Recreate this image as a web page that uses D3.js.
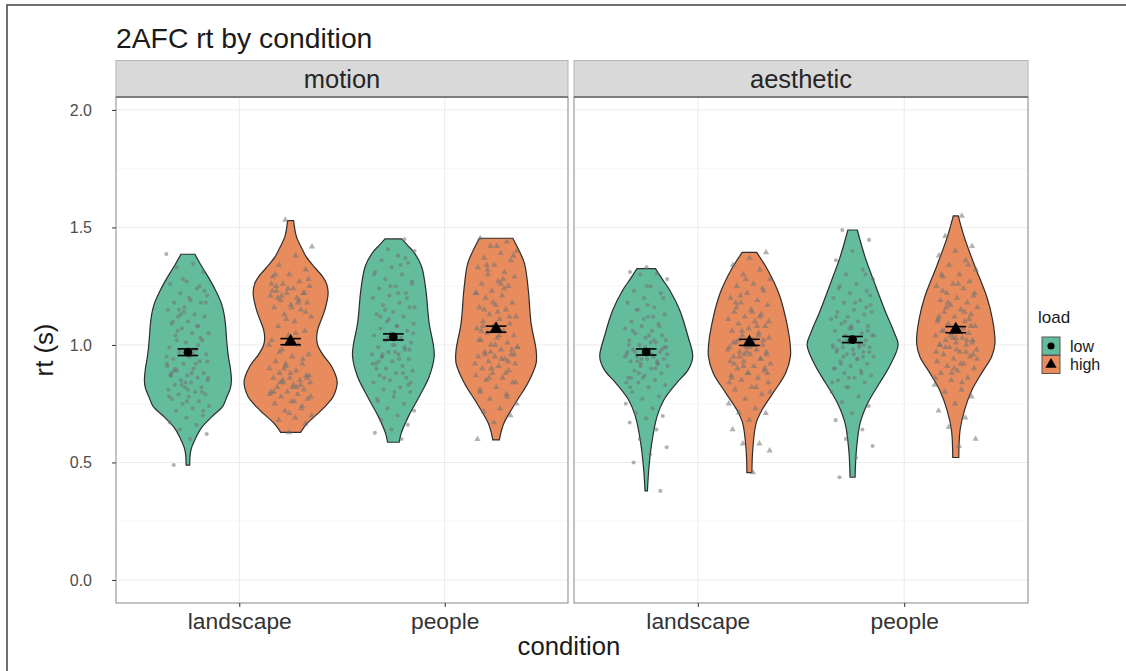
<!DOCTYPE html>
<html><head><meta charset="utf-8">
<script src="https://cdn.jsdelivr.net/npm/d3@7"></script>
<style>html,body{margin:0;padding:0;background:#fff;} svg{display:block;font-family:"Liberation Sans",Arial,sans-serif;}</style>
</head><body><svg id="chart" width="1126" height="671"></svg>
<script>
// ---------------- data ----------------
const facets = ["motion", "aesthetic"];
const conditions = ["landscape", "people"];
const loads = ["low", "high"];
const yTicks = [0.0, 0.5, 1.0, 1.5, 2.0];
const yMinorTicks = [0.25, 0.75, 1.25, 1.75];
const titleText = "2AFC rt by condition";
const xTitleText = "condition";
const yTitleText = "rt (s)";
const legendTitleText = "load";

const ptsMotionLandscapeLow = [1.387,1.345,1.33,1.31,1.27,1.26,1.24,1.22,1.21,1.19,1.18,1.18,1.16,1.15,1.13,1.12,1.12,1.10,1.09,1.08,1.07,1.05,1.05,1.04,1.02,1.01,0.99,0.98,0.97,0.96,0.95,0.94,0.93,0.92,0.92,0.90,0.89,0.88,0.87,0.87,0.86,0.85,0.85,0.84,0.83,0.82,0.82,0.81,0.80,0.79,0.79,0.78,0.77,0.76,0.75,0.74,0.73,0.72,0.70,0.69,0.67,0.66,0.64,0.621,0.60,0.489,1.03,1.14,0.91,0.96,1.06,1.23,0.81,0.88,1.00,0.83,0.86,0.88,0.90,0.80,0.84,0.78,0.92,1.15,1.18,1.20,1.10,1.25,1.28,0.95,0.98,1.02,0.72,0.76,0.87,1.08,1.13,0.93,0.97,0.89];
const ptsMotionLandscapeHigh = [1.532,1.418,1.38,1.34,1.32,1.30,1.29,1.27,1.26,1.25,1.24,1.23,1.22,1.22,1.21,1.20,1.19,1.18,1.17,1.16,1.15,1.13,1.12,1.10,1.08,1.06,1.04,1.02,1.00,0.98,0.96,0.95,0.93,0.92,0.91,0.90,0.89,0.88,0.87,0.86,0.86,0.85,0.84,0.84,0.83,0.82,0.81,0.80,0.80,0.79,0.78,0.77,0.76,0.75,0.73,0.72,0.70,0.69,0.68,0.664,0.628,1.23,1.19,0.85,0.87,0.82,1.25,0.94,1.11,0.79,0.82,0.84,0.86,0.88,0.80,0.83,0.90,0.78,0.76,1.20,1.22,1.24,1.26,1.18,1.21,1.28,1.16,1.30,0.74,0.92,1.00,1.05,0.97,1.14,0.71];
const ptsMotionPeopleLow = [1.45,1.407,1.40,1.38,1.36,1.35,1.33,1.31,1.30,1.28,1.27,1.25,1.24,1.22,1.21,1.20,1.18,1.17,1.16,1.14,1.13,1.12,1.10,1.09,1.08,1.07,1.06,1.05,1.04,1.03,1.02,1.01,1.00,0.99,0.98,0.97,0.96,0.96,0.95,0.94,0.93,0.92,0.91,0.90,0.89,0.88,0.87,0.86,0.85,0.84,0.82,0.81,0.80,0.78,0.77,0.75,0.73,0.72,0.70,0.68,0.66,0.64,0.626,0.60,1.15,1.26,0.97,0.93,1.37,1.11,0.92,0.94,0.96,0.98,1.00,0.90,0.88,1.02,1.05,1.08,1.12,1.20,1.25,1.30,1.34,0.86,0.84,0.80,0.76,0.99,1.03,1.16,1.22,0.95,0.83];
const ptsMotionPeopleHigh = [1.454,1.44,1.42,1.40,1.39,1.37,1.36,1.34,1.33,1.31,1.30,1.29,1.27,1.26,1.25,1.23,1.22,1.21,1.20,1.18,1.17,1.16,1.15,1.13,1.12,1.11,1.10,1.09,1.08,1.07,1.06,1.05,1.04,1.03,1.02,1.01,1.00,0.99,0.98,0.97,0.96,0.95,0.95,0.94,0.93,0.92,0.91,0.90,0.89,0.88,0.87,0.86,0.85,0.84,0.82,0.81,0.79,0.77,0.75,0.73,0.716,0.70,0.67,0.599,1.24,1.32,0.96,1.14,1.06,0.93,0.90,0.92,0.94,0.96,0.98,1.00,1.02,0.88,0.86,0.84,1.04,1.08,1.12,1.18,1.22,1.28,1.34,1.38,1.42,0.80,0.78,0.97,0.99,1.26,1.15];
const ptsAestheticLandscapeLow = [1.33,1.31,1.304,1.30,1.28,1.25,1.23,1.22,1.20,1.18,1.16,1.15,1.13,1.12,1.10,1.09,1.08,1.07,1.06,1.05,1.04,1.03,1.02,1.01,1.00,0.99,0.98,0.98,0.97,0.96,0.96,0.95,0.95,0.94,0.94,0.93,0.92,0.92,0.91,0.90,0.89,0.88,0.87,0.86,0.85,0.84,0.83,0.82,0.80,0.78,0.77,0.75,0.73,0.71,0.698,0.688,0.67,0.64,0.60,0.565,0.535,0.50,0.379,1.11,0.97,1.02,0.93,0.99,1.17,0.86,0.92,0.94,0.95,0.96,0.97,0.98,0.99,1.00,0.90,0.88,1.02,1.04,1.06,1.08,0.86,0.84,1.12,1.15,1.20,1.25,0.82,0.93,0.91,0.96,1.01];
const ptsAestheticLandscapeHigh = [1.394,1.37,1.34,1.32,1.30,1.28,1.26,1.25,1.23,1.22,1.20,1.19,1.18,1.17,1.15,1.14,1.13,1.12,1.11,1.10,1.09,1.08,1.07,1.06,1.05,1.04,1.03,1.02,1.01,1.00,0.99,0.99,0.98,0.97,0.96,0.96,0.95,0.94,0.93,0.92,0.91,0.90,0.89,0.88,0.87,0.86,0.85,0.84,0.82,0.81,0.79,0.77,0.75,0.73,0.712,0.71,0.68,0.64,0.58,0.58,0.55,0.457,1.16,1.02,0.97,0.93,1.08,1.21,0.88,1.00,0.92,0.94,0.96,0.98,1.00,1.02,0.90,0.88,0.86,1.04,1.06,1.10,1.14,1.18,1.24,1.28,0.84,0.82,0.95,0.97,0.99,1.01,1.12,0.91,0.80];
const ptsAestheticPeopleLow = [1.489,1.447,1.40,1.36,1.32,1.30,1.28,1.26,1.25,1.23,1.22,1.20,1.19,1.18,1.17,1.15,1.14,1.13,1.12,1.11,1.10,1.09,1.08,1.07,1.06,1.05,1.04,1.04,1.03,1.02,1.02,1.01,1.00,1.00,0.99,0.99,0.98,0.97,0.97,0.96,0.95,0.94,0.93,0.92,0.91,0.90,0.89,0.88,0.87,0.86,0.85,0.84,0.82,0.80,0.78,0.756,0.74,0.709,0.68,0.64,0.60,0.57,0.52,0.437,1.16,1.07,0.99,1.01,0.95,1.21,0.96,0.98,1.00,1.02,1.04,0.94,0.92,1.06,1.08,0.90,0.88,1.10,1.14,1.18,1.24,1.30,0.86,0.84,0.99,1.01,0.97,1.03,1.12,0.95,0.82];
const ptsAestheticPeopleHigh = [1.549,1.463,1.42,1.40,1.38,1.36,1.34,1.32,1.30,1.29,1.27,1.26,1.25,1.24,1.22,1.21,1.20,1.19,1.18,1.17,1.16,1.15,1.14,1.13,1.12,1.11,1.10,1.09,1.08,1.07,1.06,1.05,1.05,1.04,1.03,1.02,1.02,1.01,1.00,1.00,0.99,0.98,0.97,0.96,0.95,0.94,0.93,0.92,0.91,0.90,0.89,0.88,0.86,0.85,0.83,0.81,0.80,0.78,0.75,0.72,0.69,0.65,0.60,0.57,1.23,1.11,1.03,0.97,1.07,1.16,0.96,0.98,1.00,1.02,1.04,0.94,0.92,1.06,1.08,0.90,1.10,1.14,1.18,1.22,1.26,1.30,1.34,0.88,0.86,0.84,0.99,1.01,1.03,1.12,0.97];

// violin density profiles: [rt, density] (density in arbitrary units)
const vioMotionLandscapeLow = [[0.489,1.8],[0.553,3],[0.61,8.5],[0.65,14],[0.695,24],[0.74,35],[0.78,39],[0.816,42.5],[0.85,43.5],[0.90,42.5],[0.95,40.5],[1.007,39],[1.09,37.5],[1.135,36],[1.177,33.5],[1.23,28],[1.277,22],[1.34,13],[1.386,7]];
const vioMotionLandscapeHigh = [[0.628,10],[0.667,16.7],[0.709,27.5],[0.745,36],[0.78,42.5],[0.844,46.5],[0.908,41],[0.96,32],[1.0,27],[1.03,26],[1.064,27],[1.149,34.2],[1.22,37.5],[1.26,36],[1.291,32],[1.33,24],[1.376,15.5],[1.404,12],[1.461,5.8],[1.529,3]];
const vioMotionPeopleLow = [[0.586,5.8],[0.624,7.8],[0.695,15],[0.78,25.8],[0.865,35.8],[0.95,40.8],[1.0,40],[1.092,35.8],[1.234,32.5],[1.333,28.3],[1.39,21.3],[1.425,14],[1.451,8.3]];
const vioMotionPeopleHigh = [[0.596,3.3],[0.63,5],[0.667,7.8],[0.752,19.2],[0.837,31.7],[0.922,40],[0.979,40],[1.092,35],[1.234,32.2],[1.348,28.3],[1.41,22],[1.454,16.7]];
const vioAestheticLandscapeLow = [[0.379,1.2],[0.468,2.5],[0.582,5.5],[0.695,10.7],[0.766,17.5],[0.837,30],[0.894,41.7],[0.95,46.3],[1.035,41.7],[1.149,33.3],[1.234,23.3],[1.28,16],[1.325,9.2]];
const vioAestheticLandscapeHigh = [[0.457,2.5],[0.553,3.3],[0.667,6.7],[0.723,12.5],[0.794,23.3],[0.88,36],[0.95,40.8],[1.007,40.5],[1.121,35.8],[1.22,29.2],[1.319,18.3],[1.394,7.2]];
const vioAestheticPeopleLow = [[0.437,2.5],[0.553,3.8],[0.667,7.5],[0.752,15],[0.837,26.7],[0.908,36.7],[1.0,45.3],[1.05,41.7],[1.149,32],[1.262,22],[1.376,12.3],[1.489,4.7]];
const vioAestheticPeopleHigh = [[0.521,3],[0.638,4.3],[0.723,8.7],[0.809,16.2],[0.88,25.7],[0.95,35.7],[1.007,39],[1.106,36.7],[1.206,30.8],[1.333,19.2],[1.461,8.3],[1.549,2.5]];

// mean rt and standard error, order: facet > condition > load
const meanRt = [0.969, 1.014, 1.034, 1.067, 0.970, 1.011, 1.023, 1.065];
const seRt   = [0.014, 0.013, 0.013, 0.013, 0.013, 0.013, 0.013, 0.013];

const ptsList = [ptsMotionLandscapeLow, ptsMotionLandscapeHigh, ptsMotionPeopleLow, ptsMotionPeopleHigh,
                 ptsAestheticLandscapeLow, ptsAestheticLandscapeHigh, ptsAestheticPeopleLow, ptsAestheticPeopleHigh];
const vioList = [vioMotionLandscapeLow, vioMotionLandscapeHigh, vioMotionPeopleLow, vioMotionPeopleHigh,
                 vioAestheticLandscapeLow, vioAestheticLandscapeHigh, vioAestheticPeopleLow, vioAestheticPeopleHigh];

const groups = [];
{ let k = 0;
  facets.forEach((f) => conditions.forEach((c) => loads.forEach((l) => {
    groups.push({facet: f, cond: c, load: l, pts: ptsList[k], vio: vioList[k], mean: meanRt[k], se: seRt[k], idx: k});
    k++;
  })));
}

// ---------------- layout / style ----------------
const svg = d3.select("#chart");
const panelTop = 97, panelBottom = 603;
const panelX = {motion: [116, 568], aesthetic: [574, 1028]};
const stripTop = 60.5;
const fillColor = d3.scaleOrdinal().domain(loads).range(["#63bc9c", "#e88c5e"]);
const shapeType = d3.scaleOrdinal().domain(loads).range([d3.symbolCircle, d3.symbolTriangle]);

const y = d3.scaleLinear().domain([-0.098, 2.055]).range([panelBottom, panelTop]);
const densMax = 46.5;

// outer frame
svg.append("rect").attr("x", 7).attr("y", 5).attr("width", 1140).attr("height", 700)
  .attr("fill", "none").attr("stroke", "#4a4a4a").attr("stroke-width", 1.6);

// title
svg.append("text").attr("x", 116).attr("y", 48).attr("font-size", 28.3).attr("fill", "#1a1a1a").text(titleText);

facets.forEach((facet) => {
  const [x0, x1] = panelX[facet];
  const x = d3.scalePoint().domain(conditions).range([x0, x1]).padding(0.6);
  const step = x.step();
  const dodge = d3.scalePoint().domain(loads).range([-0.25 * step, 0.25 * step]);
  const w = d3.scaleLinear().domain([0, densMax]).range([0, 0.2263 * step]);

  const g = svg.append("g");
  g.append("rect").attr("x", x0).attr("y", panelTop).attr("width", x1 - x0).attr("height", panelBottom - panelTop).attr("fill", "#fff");
  g.selectAll(".minor").data(yMinorTicks).join("line")
    .attr("x1", x0).attr("x2", x1).attr("y1", d => y(d)).attr("y2", d => y(d))
    .attr("stroke", "#f4f4f4").attr("stroke-width", 0.8);
  g.selectAll(".major").data(yTicks).join("line")
    .attr("x1", x0).attr("x2", x1).attr("y1", d => y(d)).attr("y2", d => y(d))
    .attr("stroke", "#ebebeb").attr("stroke-width", 1);
  g.selectAll(".vmajor").data(conditions).join("line")
    .attr("x1", d => x(d)).attr("x2", d => x(d)).attr("y1", panelTop).attr("y2", panelBottom)
    .attr("stroke", "#ebebeb").attr("stroke-width", 1);

  const fg = groups.filter(d => d.facet === facet);
  fg.forEach((gr) => {
    const cx = x(gr.cond) + dodge(gr.load);
    const area = d3.area().curve(d3.curveCatmullRom.alpha(0.5))
      .y(d => y(d[0])).x0(d => cx - w(d[1])).x1(d => cx + w(d[1]));
    g.append("path").datum(gr.vio).attr("d", area)
      .attr("fill", fillColor(gr.load)).attr("stroke", "#2e2e2e").attr("stroke-width", 1.2);
  });
  fg.forEach((gr) => {
    const cx = x(gr.cond) + dodge(gr.load);
    const sym = d3.symbol().type(shapeType(gr.load)).size(gr.load === "low" ? 13 : 17);
    g.selectAll(null).data(gr.pts).join("path")
      .attr("d", sym)
      .attr("transform", (d, i) => {
        const j = ((i * 0.6180339887 + gr.idx * 0.377) % 1) - 0.5;
        return `translate(${cx + j * 0.21 * step},${y(d)})`;
      })
      .attr("fill", "#727272").attr("fill-opacity", 0.55);
  });
  fg.forEach((gr) => {
    const cx = x(gr.cond) + dodge(gr.load);
    const cap = 0.05 * step;
    const eg = g.append("g").attr("stroke", "#000").attr("stroke-width", 1.6);
    eg.append("line").attr("x1", cx).attr("x2", cx).attr("y1", y(gr.mean - gr.se)).attr("y2", y(gr.mean + gr.se));
    eg.append("line").attr("x1", cx - cap).attr("x2", cx + cap).attr("y1", y(gr.mean - gr.se)).attr("y2", y(gr.mean - gr.se));
    eg.append("line").attr("x1", cx - cap).attr("x2", cx + cap).attr("y1", y(gr.mean + gr.se)).attr("y2", y(gr.mean + gr.se));
    g.append("path").attr("d", d3.symbol().type(shapeType(gr.load)).size(gr.load === "low" ? 60 : 80))
      .attr("transform", `translate(${cx},${y(gr.mean)})`).attr("fill", "#000");
  });
  g.append("rect").attr("x", x0).attr("y", panelTop).attr("width", x1 - x0).attr("height", panelBottom - panelTop)
    .attr("fill", "none").attr("stroke", "#9a9a9a").attr("stroke-width", 1.2);
  g.append("rect").attr("x", x0).attr("y", stripTop).attr("width", x1 - x0).attr("height", panelTop - stripTop)
    .attr("fill", "#d9d9d9").attr("stroke", "#b5b5b5").attr("stroke-width", 1);
  g.append("line").attr("x1", x0).attr("x2", x1).attr("y1", panelTop).attr("y2", panelTop)
    .attr("stroke", "#666").attr("stroke-width", 1.5);
  g.append("text").attr("x", (x0 + x1) / 2).attr("y", (stripTop + panelTop) / 2).attr("dy", "0.35em")
    .attr("text-anchor", "middle").attr("font-size", 25.5).attr("fill", "#262626").text(facet);

  const xa = d3.axisBottom(x).tickSize(4).tickPadding(4);
  const xg = g.append("g").attr("transform", `translate(0,${panelBottom})`).call(xa);
  xg.select(".domain").remove();
  xg.selectAll(".tick line").attr("stroke", "#333");
  xg.selectAll(".tick text").attr("font-size", 22.8).attr("fill", "#333").attr("font-family", "Liberation Sans, Arial, sans-serif")
    .attr("dy", "0.8em");
});

const ya = d3.axisLeft(y).tickValues(yTicks).tickFormat(d3.format(".1f")).tickSize(4).tickPadding(20);
const yg = svg.append("g").attr("transform", `translate(${panelX.motion[0]},0)`).call(ya);
yg.select(".domain").remove();
yg.selectAll(".tick line").attr("stroke", "#333");
yg.selectAll(".tick text").attr("font-size", 16).attr("fill", "#4d4d4d").attr("font-family", "Liberation Sans, Arial, sans-serif");

svg.append("text").attr("x", 569).attr("y", 655).attr("text-anchor", "middle").attr("font-size", 25.7).attr("fill", "#1a1a1a").text(xTitleText);
svg.append("text").attr("transform", `translate(53,${(panelTop + panelBottom) / 2}) rotate(-90)`)
  .attr("text-anchor", "middle").attr("font-size", 25.7).attr("fill", "#1a1a1a").text(yTitleText);

const lg = svg.append("g");
lg.append("text").attr("x", 1038).attr("y", 323).attr("font-size", 17).attr("fill", "#1a1a1a").text(legendTitleText);
loads.forEach((l, i) => {
  const ky = 337 + i * 18.5;
  lg.append("rect").attr("x", 1042).attr("y", ky).attr("width", 18).attr("height", 18)
    .attr("fill", fillColor(l)).attr("stroke", "#555").attr("stroke-width", 1);
  lg.append("path").attr("d", d3.symbol().type(shapeType(l)).size(l === "low" ? 40 : 55))
    .attr("transform", `translate(1051,${ky + 9})`).attr("fill", "#000");
  lg.append("text").attr("x", 1070).attr("y", ky + 9).attr("dy", "0.35em").attr("font-size", 16).attr("fill", "#1a1a1a").text(l);
});
</script></body></html>
